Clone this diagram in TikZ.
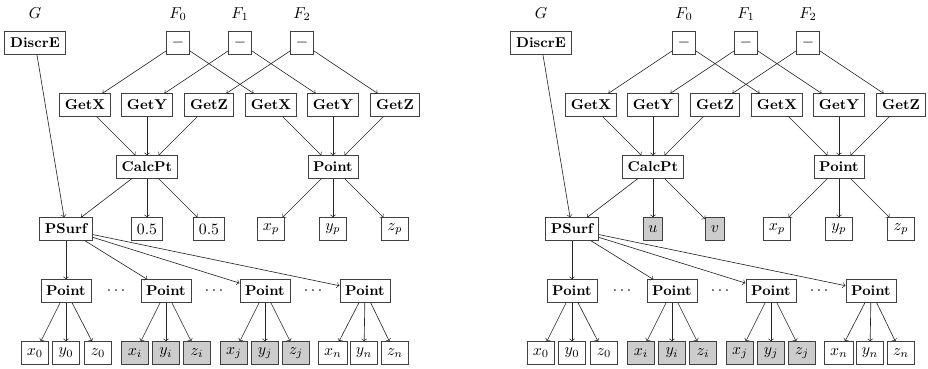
\documentclass[tikz,border=0pt]{standalone}
\begin{document}
\begin{tikzpicture}[
  x=0.02225cm, y=-0.02225cm,
  box/.style={draw=black!75, semithick, minimum height=14pt, inner sep=3.33pt},
  op/.style={box, font=\small\bfseries},
  leaf/.style={box, minimum width=17.5pt},
  lbl/.style={inner sep=1pt},
  arr/.style={->, black!85}
  ]
	\useasboundingbox (0,0) rectangle (928,369);
	\foreach \p/\ox/\ta/\tb/\fc in {L/0/0.5/0.5/white, R/506/u/v/black!20}{
	\begin{scope}[shift={(\ox,0)}]
	% inputs
	\node[lbl] (\p-g) at (35,13) {$G$};
	\node[lbl] (\p-f0) at (178,14) {$F_0$};
	\node[lbl] (\p-f1) at (240,14) {$F_1$};
	\node[lbl] (\p-f2) at (302,14) {$F_2$};
	\node[op] (\p-discr) at (35,43) {DiscrE};
	\node[box] (\p-m0) at (178,43) {$-$};
	\node[box] (\p-m1) at (240,43) {$-$};
	\node[box] (\p-m2) at (302,43) {$-$};

	\node[op] (\p-gx1) at (85,105) {GetX};
	\node[op] (\p-gy1) at (147,105) {GetY};
	\node[op] (\p-gz1) at (209,105) {GetZ};
	\node[op] (\p-gx2) at (271,105) {GetX};
	\node[op] (\p-gy2) at (333,105) {GetY};
	\node[op] (\p-gz2) at (395,105) {GetZ};

	\node[op] (\p-calc) at (147,167) {CalcPt};
	\node[op] (\p-pt) at (333,167) {Point};

	\node[op] (\p-psurf) at (66,229) {PSurf};
	\node[box, fill=\fc] (\p-ca) at (147,229) {$\ta$};
	\node[box, fill=\fc] (\p-cb) at (209,229) {$\tb$};
	\node[leaf] (\p-xp) at (271,229) {$x_p$};
	\node[leaf] (\p-yp) at (333,229) {$y_p$};
	\node[leaf] (\p-zp) at (395,229) {$z_p$};

	% sample points
	\node[op] (\p-p1) at (66,291) {Point};
	\node[op] (\p-p2) at (166,291) {Point};
	\node[op] (\p-p3) at (265,291) {Point};
	\node[op] (\p-p4) at (365,291) {Point};
	\node[lbl] (\p-d1) at (116,291) {$\cdots$};
	\node[lbl] (\p-d2) at (214,291) {$\cdots$};
	\node[lbl] (\p-d3) at (313,291) {$\cdots$};

	\node[leaf] (\p-x0) at (35,353) {$x_0$};
	\node[leaf] (\p-y0) at (66,353) {$y_0$};
	\node[leaf] (\p-z0) at (98,353) {$z_0$};
	\node[leaf, fill=black!20] (\p-xi) at (135,353) {$x_i$};
	\node[leaf, fill=black!20] (\p-yi) at (166,353) {$y_i$};
	\node[leaf, fill=black!20] (\p-zi) at (197,353) {$z_i$};
	\node[leaf, fill=black!20] (\p-xj) at (234,353) {$x_j$};
	\node[leaf, fill=black!20] (\p-yj) at (265,353) {$y_j$};
	\node[leaf, fill=black!20] (\p-zj) at (296,353) {$z_j$};
	\node[leaf] (\p-xn) at (333,353) {$x_n$};
	\node[leaf] (\p-yn) at (364,353) {$y_n$};
	\node[leaf] (\p-zn) at (395,353) {$z_n$};

	\foreach \a/\b in {m0/gx1, m0/gx2, m1/gy1, m1/gy2, m2/gz1, m2/gz2,
	  gx1/calc, gy1/calc, gz1/calc, gx2/pt, gy2/pt, gz2/pt,
	  discr/psurf, calc/psurf, calc/ca, calc/cb, pt/xp, pt/yp, pt/zp,
	  psurf/p1, psurf/p2, psurf/p3, psurf/p4,
	  p1/x0, p1/y0, p1/z0, p2/xi, p2/yi, p2/zi,
	  p3/xj, p3/yj, p3/zj, p4/xn, p4/yn, p4/zn}
	  \draw[arr] (\p-\a) -- (\p-\b);
	\end{scope}}
\end{tikzpicture}
\end{document}
